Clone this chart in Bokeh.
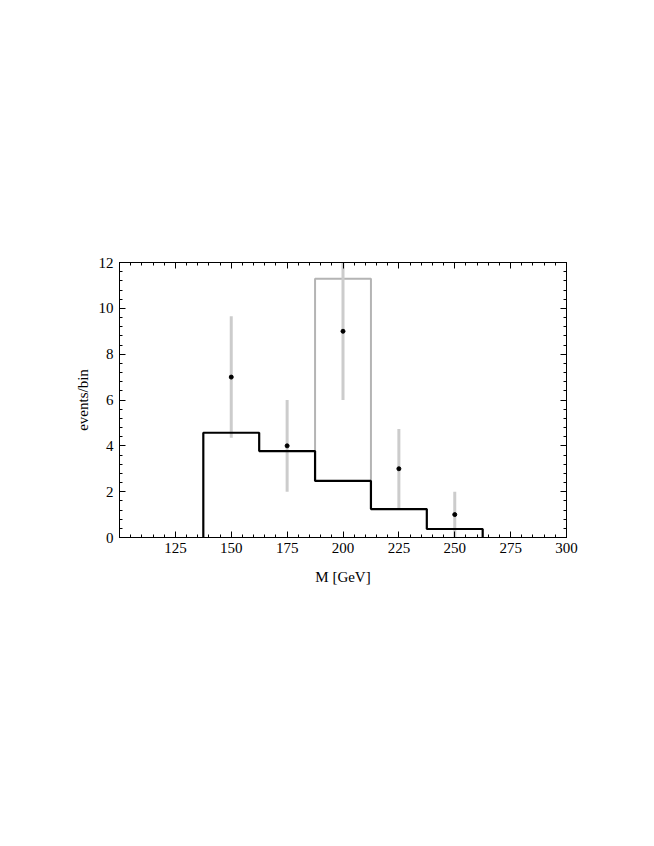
from bokeh.plotting import figure
from bokeh.models import Range1d, FixedTicker, LinearAxis
from bokeh.embed import file_html
from bokeh.resources import INLINE

# ---- data ----
bin_edges = [137.5, 162.5, 187.5, 212.5, 237.5, 262.5]
bg_counts = [4.57, 3.77, 2.47, 1.24, 0.37]
signal_lo_edge = 187.5
signal_hi_edge = 212.5
signal_base = 2.47
signal_top = 11.29
data_x = [150, 175, 200, 225, 250]
data_y = [7, 4, 9, 3, 1]
err_lo = [4.35, 2.0, 6.0, 1.27, 0.0]
err_hi = [9.65, 6.0, 12.0, 4.73, 2.0]
x_major = [100, 125, 150, 175, 200, 225, 250, 275, 300]
x_minor = [100 + 5 * i for i in range(41)]
y_major = [0, 2, 4, 6, 8, 10, 12]
y_minor = [round(0.4 * i, 2) for i in range(31)]

FONT = "Liberation Serif"

p = figure(width=646, height=830, output_backend="svg", toolbar_location=None,
           x_range=Range1d(100, 300), y_range=Range1d(0, 12),
           min_border_left=119, min_border_top=262, min_border_right=80,
           min_border_bottom=293, x_axis_location=None, y_axis_location=None)
p.grid.visible = False
p.outline_line_color = "black"
p.outline_line_width = 1
p.background_fill_color = "white"
p.border_fill_color = "white"

def style_axis(ax, ticks, minor, show_labels):
    ax.ticker = FixedTicker(ticks=ticks, minor_ticks=minor)
    ax.major_tick_in = 6
    ax.major_tick_out = 0
    ax.minor_tick_in = 3
    ax.minor_tick_out = 0
    ax.axis_line_color = "black"
    ax.major_tick_line_color = "black"
    ax.minor_tick_line_color = "black"
    ax.major_label_text_font = FONT
    ax.major_label_text_font_size = "15px"
    ax.major_label_text_color = "black"
    ax.axis_label_text_font = FONT
    ax.axis_label_text_font_size = "15px"
    ax.axis_label_text_font_style = "normal"
    ax.axis_label_text_color = "black"
    if not show_labels:
        ax.major_label_text_font_size = "0px"
        ax.major_label_text_alpha = 0

xb = LinearAxis(axis_label="M [GeV]")
style_axis(xb, [t for t in x_major if t != 100], x_minor, True)
xb.major_label_standoff = 5
xb.axis_label_standoff = 13
p.add_layout(xb, "below")

yl = LinearAxis(axis_label="events/bin")
style_axis(yl, y_major, y_minor, True)
yl.major_label_standoff = 6
yl.axis_label_standoff = 5
p.add_layout(yl, "left")

xt = LinearAxis()
style_axis(xt, x_major, x_minor, False)
p.add_layout(xt, "above")

yr = LinearAxis()
style_axis(yr, y_major, y_minor, False)
p.add_layout(yr, "right")

# signal (grey) bin outline
p.line([signal_lo_edge, signal_lo_edge, signal_hi_edge, signal_hi_edge],
       [signal_base, signal_top, signal_top, signal_base],
       line_color="#b4b4b4", line_width=2)

# error bars
p.segment(x0=data_x, y0=err_lo, x1=data_x, y1=err_hi,
          line_color="#cccccc", line_width=3)

# background step histogram
sx = [bin_edges[0]]
sy = [0]
for i, c in enumerate(bg_counts):
    sx += [bin_edges[i], bin_edges[i + 1]]
    sy += [c, c]
sx.append(bin_edges[-1])
sy.append(0)
p.line(sx, sy, line_color="black", line_width=2.2)

# data points
p.scatter(data_x, data_y, size=4, color="black")

open("out.html", "w").write(file_html(p, INLINE))
